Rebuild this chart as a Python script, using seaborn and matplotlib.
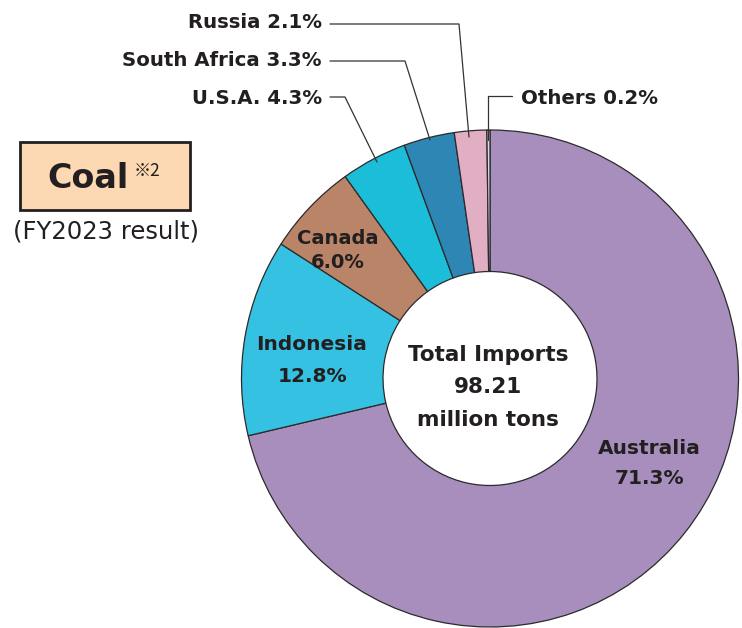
import matplotlib
matplotlib.use("Agg")
import matplotlib.pyplot as plt
import seaborn as sns
from matplotlib.patches import FancyBboxPatch

sns.set_theme(style="white")
plt.rcParams["font.family"] = ["DejaVu Sans"]

countries = ["Australia", "Indonesia", "Canada", "U.S.A.", "South Africa", "Russia", "Others"]
shares = [71.3, 12.8, 6.0, 4.3, 3.3, 2.1, 0.2]
colors = ["#a78ebd", "#35c1e1", "#b98467", "#1bbdd8", "#2d86b4", "#e1aec4", "#d9d7e7"]
total_imports = 98.21

W, H = 742, 628
fig = plt.figure(figsize=(W / 100, H / 100), dpi=100)
ax = fig.add_axes([0, 0, 1, 1])
ax.set_xlim(0, W)
ax.set_ylim(0, H)
ax.set_aspect("equal")
ax.axis("off")

def py(y):
    return H - y

cx, cy, R = 490, py(378.5), 248.5
ring = 1 - 107 / R
ax.pie(shares, colors=colors, startangle=90, counterclock=False,
       center=(cx, cy), radius=R,
       wedgeprops=dict(width=R * ring, edgecolor="#2b2b2b", linewidth=0.9))
ax.set_xlim(0, W)
ax.set_ylim(0, H)

dark = "#231f20"
bold = dict(color=dark, fontweight="bold", ha="center", va="center")

def pct(v):
    return f"{v:.1f}%"

# In-slice labels
ax.text(338, py(238), countries[2], fontsize=14, **bold)
ax.text(338, py(262), pct(shares[2]), fontsize=14, **bold)
ax.text(312, py(345), countries[1], fontsize=14.5, **bold)
ax.text(312, py(376), pct(shares[1]), fontsize=14.5, **bold)
ax.text(649, py(448), countries[0], fontsize=14.5, **bold)
ax.text(649, py(478), pct(shares[0]), fontsize=14.5, **bold)

# Centre total
ax.text(488, py(355), "Total Imports", fontsize=15.5, **bold)
ax.text(488, py(387), f"{total_imports:.2f}", fontsize=15.5, **bold)
ax.text(488, py(420), "million tons", fontsize=15.5, **bold)

# Leader-line labels for the small slices
lc = dict(color="#333333", linewidth=0.9)
side = dict(color=dark, fontweight="bold", fontsize=14.2, va="center")
ax.text(322, py(23), f"{countries[5]} {pct(shares[5])}", ha="right", **side)
ax.plot([330, 459, 469], [py(24), py(24), py(137)], **lc)
ax.text(322, py(61), f"{countries[4]} {pct(shares[4])}", ha="right", **side)
ax.plot([330, 405, 430], [py(61), py(61), py(140)], **lc)
ax.text(322, py(98), f"{countries[3]} {pct(shares[3])}", ha="right", **side)
ax.plot([330, 345, 377], [py(97), py(97), py(162)], **lc)
ax.text(521, py(98), f"{countries[6]} {pct(shares[6])}", ha="left", **side)
ax.plot([488, 488, 512], [py(140), py(96), py(96)], **lc)

# Title box
box = FancyBboxPatch((20, py(210)), 170, 68, boxstyle="square,pad=0",
                     facecolor="#fdd9b3", edgecolor="#231f20", linewidth=2)
ax.add_patch(box)
ax.text(88, py(178), "Coal", fontsize=24, color=dark, fontweight="bold",
        ha="center", va="center")
ax.text(147, py(171), "※2", fontsize=12.5, color=dark, ha="center", va="center",
        family=["Noto Sans CJK JP", "DejaVu Sans"])
ax.text(106, py(231), "(FY2023 result)", fontsize=17.5, color=dark,
        ha="center", va="center")

fig.savefig("out.png", dpi=100)
